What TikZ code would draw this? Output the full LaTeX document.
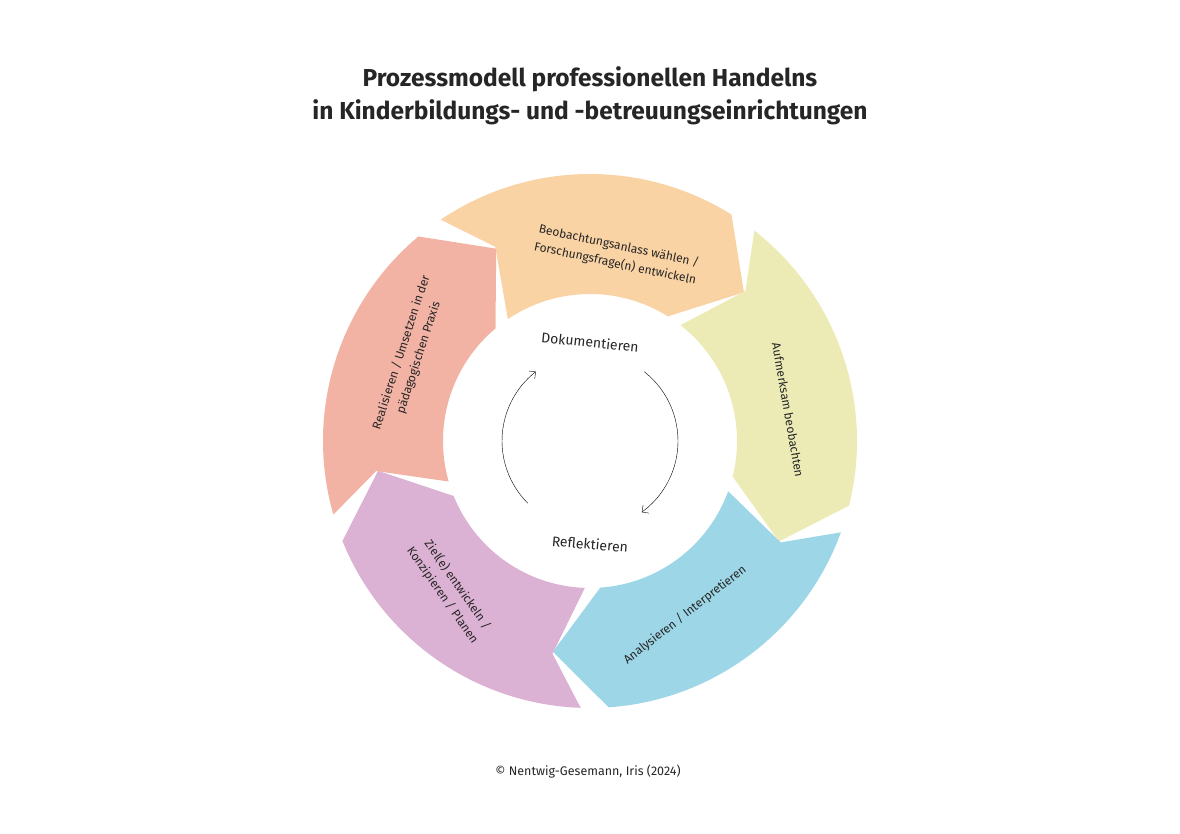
\documentclass[tikz,border=0pt]{standalone}
\usepackage{fontspec}
\setmainfont{Fira Sans}
\usetikzlibrary{arrows.meta}
\definecolor{cOr}{HTML}{FAD3A5}
\definecolor{cYe}{HTML}{ECEBB5}
\definecolor{cBl}{HTML}{9DD6E6}
\definecolor{cPu}{HTML}{DCB2D4}
\definecolor{cRe}{HTML}{F2B3A5}
\tikzset{lab/.style={font=\fontsize{12}{18}\selectfont, align=center, text=black!85}}
\newcommand{\ringseg}[3]{%
  \fill[#3] (#1:267) arc[start angle=#1, end angle=#2, radius=267]
    -- ({#2-14}:214) -- (#2:147) arc[start angle=#2, end angle=#1, radius=147]
    -- ({#1-8}:216) -- cycle;}
\begin{document}
\begin{tikzpicture}[x=1pt,y=1pt]
\useasboundingbox (0,-834) rectangle (1180,0);
\node[font=\fontsize{24.5}{33}\selectfont\bfseries, align=center, text=black!85] (title) at (590,-96) {Prozessmodell professionellen Handelns\\in Kinderbildungs- und -betreuungseinrichtungen};
\begin{scope}[shift={(590,-441)}]
\ringseg{124}{58}{cOr}
\ringseg{52}{-14}{cYe}
\ringseg{-20}{-86}{cBl}
\ringseg{-92}{-158}{cPu}
\ringseg{196}{130}{cRe}
\draw[-{Straight Barb[length=5pt]}, thin] (225:88) arc[start angle=225, end angle=128, radius=88];
\draw[-{Straight Barb[length=5pt]}, thin] (52:88) arc[start angle=52, end angle=-54, radius=88];
\end{scope}
\node[lab, rotate=-12] (or) at (617,-255) {Beobachtungsanlass wählen /\\Forschungsfrage(n) entwickeln};
\node[lab, rotate=-80] (ye) at (788,-410) {Aufmerksam beobachten};
\node[lab, rotate=38] (bl) at (685,-615) {Analysieren / Interpretieren};
\node[lab, rotate=-55] (pu) at (450,-590) {Ziel(e) entwickeln /\\Konzipieren / Planen};
\node[lab, rotate=72] (re) at (410,-355) {Realisieren / Umsetzen in der\\pädagogischen Praxis};
\node[font=\fontsize{14}{16}\selectfont, rotate=-6, text=black!85] (dok) at (590,-342) {Dokumentieren};
\node[font=\fontsize{14}{16}\selectfont, rotate=-5, text=black!85] (ref) at (590,-544) {Reflektieren};
\node[font=\fontsize{12.5}{14}\selectfont, text=black!85] (copy) at (588,-772) {© Nentwig-Gesemann, Iris (2024)};
\end{tikzpicture}
\end{document}
